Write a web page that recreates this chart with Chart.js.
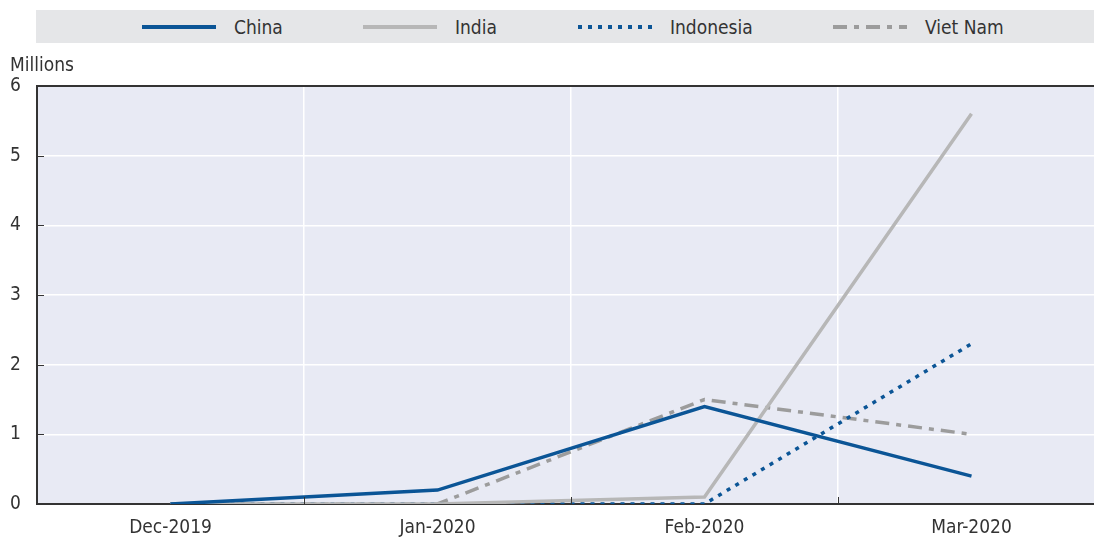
<!DOCTYPE html>
<html>
<head>
<meta charset="utf-8">
<script src="https://cdn.jsdelivr.net/npm/chart.js@4/dist/chart.umd.min.js"></script>
<style>
  html, body { margin: 0; padding: 0; background: #fff; overflow: hidden; }
  #wrap { position: relative; width: 1105px; height: 541px; }
  #chart { display: block; }
  #legend { position: absolute; left: 36px; top: 10px; width: 1058px; height: 33px; background: #e5e6e8; }
  .item { position: absolute; top: 0; height: 33px; display: flex; align-items: center;
          font: 19px "DejaVu Sans Condensed", "Liberation Sans Narrow", sans-serif; color: #333; }
  .item svg { margin-right: 18px; }
</style>
</head>
<body>
<div id="wrap">
  <canvas id="chart" width="1105" height="541"></canvas>
  <div id="legend"></div>
</div>
<script>
// data (millions)
const months = ['Dec-2019', 'Jan-2020', 'Feb-2020', 'Mar-2020'];
const china = [0, 0.2, 1.4, 0.4];
const india = [0, 0, 0.1, 5.6];
const indonesia = [0, 0, 0, 2.3];
const vietNam = [0, 0, 1.5, 1.0];
const yTicks = [0, 1, 2, 3, 4, 5, 6];

const FONT = '"DejaVu Sans Condensed", "Liberation Sans Narrow", sans-serif';
const TEXT = '#333';

const series = [
  { label: 'China', data: china, color: '#0b5596', dash: [], legendX: 142 },
  { label: 'India', data: india, color: '#b7b7b7', dash: [], legendX: 363 },
  { label: 'Indonesia', data: indonesia, color: '#0b5596', dash: [4, 6], legendX: 578 },
  { label: 'Viet Nam', data: vietNam, color: '#9c9c9c', dash: [14, 7, 5, 7], legendX: 833 }
];

// html legend with line samples
const legend = document.getElementById('legend');
series.forEach(s => {
  const div = document.createElement('div');
  div.className = 'item';
  div.style.left = (s.legendX - 36) + 'px';
  div.innerHTML = '<svg width="74" height="6"><line x1="0" y1="3" x2="74" y2="3" stroke="' + s.color +
    '" stroke-width="4" stroke-dasharray="' + (s.dash.length ? s.dash.join(' ') : 'none') + '"/></svg>' +
    '<span>' + s.label + '</span>';
  legend.appendChild(div);
});

// background, top border, inward ticks, unit label
const decor = {
  id: 'decor',
  beforeDraw(chart) {
    const { ctx, chartArea: a } = chart;
    ctx.save();
    ctx.fillStyle = '#e8eaf4';
    ctx.fillRect(a.left, a.top, a.right - a.left, a.bottom - a.top);
    ctx.restore();
  },
  afterDraw(chart) {
    const { ctx, chartArea: a, scales } = chart;
    ctx.save();
    ctx.strokeStyle = '#333';
    ctx.lineWidth = 2;
    ctx.beginPath();
    ctx.moveTo(a.left - 1, a.top);
    ctx.lineTo(a.right, a.top);
    ctx.stroke();
    ctx.lineWidth = 1;
    ctx.beginPath();
    const w = (a.right - a.left) / months.length;
    for (let i = 1; i < months.length; i++) {
      const x = Math.round(a.left + i * w) + 0.5;
      ctx.moveTo(x, a.bottom);
      ctx.lineTo(x, a.bottom - 7);
    }
    yTicks.slice(1, -1).forEach(v => {
      const y = Math.round(scales.y.getPixelForValue(v)) + 0.5;
      ctx.moveTo(a.left, y);
      ctx.lineTo(a.left + 7, y);
    });
    ctx.stroke();
    ctx.fillStyle = TEXT;
    ctx.font = '19px ' + FONT;
    ctx.textBaseline = 'alphabetic';
    ctx.fillText('Millions', 10, 71);
    ctx.restore();
  }
};

new Chart(document.getElementById('chart'), {
  type: 'line',
  data: {
    labels: months,
    datasets: series.map(s => ({
      label: s.label,
      data: s.data,
      borderColor: s.color,
      borderDash: s.dash,
      borderWidth: 3.5,
      pointRadius: 0,
      tension: 0,
      fill: false
    }))
  },
  options: {
    responsive: false,
    animation: false,
    layout: { padding: { left: 10, top: 86, right: 0, bottom: 0 } },
    plugins: { legend: { display: false }, tooltip: { enabled: false } },
    scales: {
      x: {
        offset: true,
        afterFit: scale => { scale.height = 37; },
        grid: { offset: true, color: '#ffffff', lineWidth: 1.5, drawTicks: false },
        border: { color: '#333', width: 2 },
        ticks: { color: TEXT, font: { family: FONT, size: 19 }, padding: 13, maxRotation: 0 }
      },
      y: {
        min: 0,
        max: 6,
        afterBuildTicks: scale => { scale.ticks = yTicks.map(v => ({ value: v })); },
        afterFit: scale => { scale.width = 27; },
        grid: { color: '#ffffff', lineWidth: 1.5, drawTicks: false },
        border: { color: '#333', width: 2 },
        ticks: { color: TEXT, font: { family: FONT, size: 19 }, crossAlign: 'far', padding: 0 }
      }
    }
  },
  plugins: [decor]
});
</script>
</body>
</html>
